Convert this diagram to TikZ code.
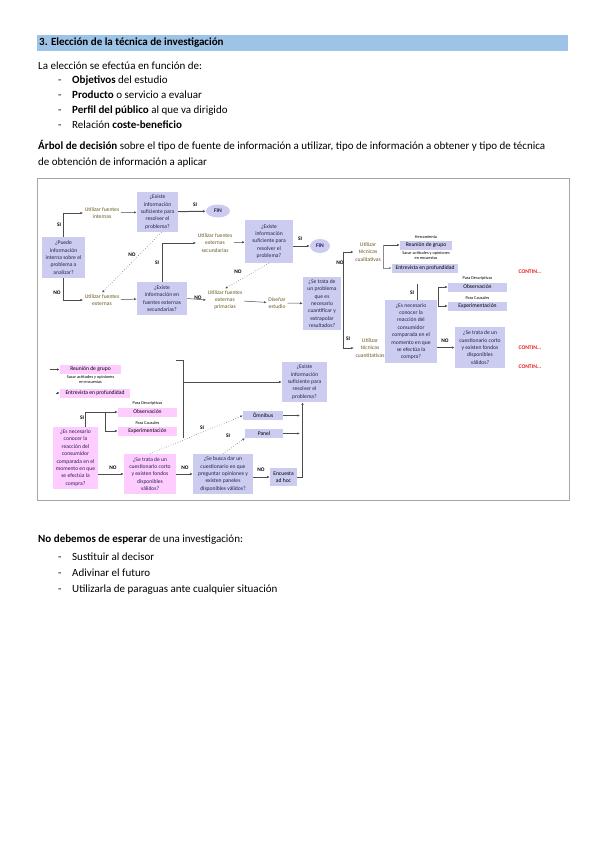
\documentclass[tikz,border=0pt]{standalone}
\usepackage{fontspec}
\setmainfont{Carlito}
\usetikzlibrary{
    arrows.meta,
    positioning,
    calc,
    shapes.geometric
}
\definecolor{headblue}{RGB}{157,195,230}
\definecolor{lavbox}{RGB}{204,204,240}
\definecolor{pinkbox}{RGB}{255,204,255}
\definecolor{boxtext}{RGB}{35,35,80}
\definecolor{srctext}{RGB}{105,88,35}
\definecolor{contred}{RGB}{230,30,30}
\newcommand{\diagfont}{\fontsize{5.6}{7.4}\selectfont}
\newcommand{\notefont}{\fontsize{4.3}{5}\selectfont}
\newcommand{\bodyfont}{\fontsize{11}{13}\selectfont}
\tikzset{
    question/.style={
        fill=lavbox,
        text=boxtext,
        align=center,
        inner sep=0.5pt,
        font=\diagfont
    }
}
\tikzset{
    pinkq/.style={
        question,
        fill=pinkbox
    }
}
\tikzset{
    toolbox/.style={
        fill=lavbox,
        text=black,
        inner sep=0.5pt,
        minimum height=9pt,
        font=\diagfont
    }
}
\tikzset{
    pinktool/.style={
        toolbox,
        fill=pinkbox
    }
}
\tikzset{
    action/.style={
        text=srctext,
        align=center,
        inner sep=1.5pt,
        font=\diagfont
    }
}
\tikzset{
    endnode/.style={
        ellipse,
        fill=lavbox,
        text=boxtext,
        inner sep=0pt,
        font=\diagfont\bfseries
    }
}
\tikzset{
    answer/.style={
        font=\fontsize{5.4}{6}\selectfont\bfseries,
        inner sep=0pt
    }
}
\tikzset{
    note/.style={
        font=\notefont,
        align=center,
        inner sep=0pt
    }
}
\tikzset{
    contin/.style={
        text=contred,
        font=\fontsize{5.6}{6}\selectfont\bfseries,
        inner sep=0pt
    }
}
\tikzset{
    flow/.style={
        draw=black!70,
        line width=0.5pt,
        -{Latex[length=2.6pt,width=2.2pt]}
    }
}
\tikzset{
    jumpflow/.style={
        flow,
        dotted
    }
}
\tikzset{
    bodytext/.style={
        font=\bodyfont,
        anchor=west,
        inner sep=0pt,
        text height=7.5pt,
        text depth=2.5pt
    }
}

\begin{document}
\begin{tikzpicture}[
    x=1pt,
    y=-1pt,
    >=Latex
]
\useasboundingbox (0,0) rectangle (599,848);

% ------------------------------------------------------------
% Heading and text above the tree
% ------------------------------------------------------------

\fill[headblue] (37,35) rectangle (568,51);
\node[bodytext, font=\bodyfont\bfseries] (heading) at (39,43)
    {3. Elección de la técnica de investigación};

\node[bodytext] (intro) at (38,67) {La elección se efectúa en función de:};
\foreach \y/\txt in {
    81/{\textbf{Objetivos} del estudio},
    96/{\textbf{Producto} o servicio a evaluar},
    111/{\textbf{Perfil del público} al que va dirigido},
    126/{Relación \textbf{coste-beneficio}}} {
    \node[bodytext] at (58,\y) {-};
    \node[bodytext] at (72,\y) {\txt};
}

\node[bodytext] (arbol) at (38,147)
    {\textbf{Árbol de decisión} sobre el tipo de fuente de información a utilizar, tipo de información a obtener y tipo de técnica};
\node[bodytext] (arbol2) at (38,163)
    {de obtención de información a aplicar};

% ------------------------------------------------------------
% Frame
% ------------------------------------------------------------

\draw[gray!70, line width=0.8pt] (37,178) rectangle (569,500);

% ------------------------------------------------------------
% Sources of information
% ------------------------------------------------------------

\node[question, minimum width=43pt, minimum height=41pt] (interna) at (63.5,257.5)
    {¿Puede\\información\\interna sobre el\\problema a\\analizar?};

\node[action] (fuentesint) at (102,213) {Utilizar fuentes\\internas};

\node[question, minimum width=41pt, minimum height=40pt] (suficiente1) at (157.5,212)
    {¿Existe\\información\\suficiente para\\resolver el\\problema?};

\node[endnode, minimum width=24pt, minimum height=13pt] (fin1) at (218,211) {FIN};

\node[action] (fuentesext) at (102,300) {Utilizar fuentes\\externas};

\node[question, minimum width=50pt, minimum height=33pt] (secundarias) at (162,298.5)
    {¿Existe\\información en\\fuentes externas\\secundarias?};

\node[action] (usarsec) at (215,243) {Utilizar fuentes\\externas\\secundarias};

\node[question, minimum width=48pt, minimum height=43pt] (suficiente2) at (269,241.5)
    {¿Existe\\información\\suficiente para\\resolver el\\problema?};

\node[endnode, minimum width=20pt, minimum height=14pt] (fin2) at (320,246) {FIN};

\node[action] (usarprim) at (225,300) {Utilizar fuentes\\externas\\primarias};

\node[action] (disenar) at (277,303) {Diseñar\\estudio};

\node[question, minimum width=38pt, minimum height=53pt] (cuantificar) at (322,303.5)
    {¿Se trata de\\un problema\\que es\\necesario\\cuantificar y\\extrapolar\\resultados?};

\draw[flow] (interna.north) |- (fuentesint.west);
\node[answer] at (59,225) {SI};
\draw[flow] (fuentesint) -- (suficiente1);
\draw[flow, line width=1pt] (suficiente1) -- (fin1);
\node[answer] at (195,205) {SI};
\draw[jumpflow] ([xshift=4pt]suficiente1.south) -- (fuentesext.north);
\node[answer] at (132,255) {NO};
\draw[flow] (interna.south) |- (fuentesext.west);
\node[answer] at (57,293) {NO};
\draw[flow] (fuentesext) -- (secundarias);
\draw[flow] (secundarias.north) |- (usarsec.west);
\node[answer] at (157,263) {SI};
\draw[flow] (secundarias.east) -- (usarprim.west);
\node[answer] at (198,298) {NO};
\draw[flow] (usarsec) -- (suficiente2);
\draw[flow] (suficiente2.east |- fin2) -- (fin2);
\node[answer] at (300,239) {SI};
\draw[jumpflow] (suficiente2.south) -- (usarprim.north);
\node[answer] at (238,272) {NO};
\draw[flow] (usarprim) -- (disenar);
\draw[flow] (disenar) -- (cuantificar);

% ------------------------------------------------------------
% Techniques
% ------------------------------------------------------------

\node[action] (cualitativas) at (368,252) {Utilizar\\técnicas\\cualitativas};

\node[toolbox, minimum width=52pt] (grupo) at (426,245) {Reunión de grupo};
\node[note, above=1.5pt of grupo] (herram) {Herramienta};
\node[note, below=1.5pt of grupo] (actitudes) {Sacar actitudes y opiniones\\en encuestas};

\node[toolbox, minimum width=66pt] (profundidad) at (425,268) {Entrevista en profundidad};

\node[contin] (contin1) at (530,272) {CONTIN...};

\node[toolbox, minimum width=59pt] (observacion) at (477.5,287) {Observación};
\node[note, above=1.5pt of observacion] (descrip1) {Para Descriptivas};

\node[toolbox, minimum width=59pt] (experim) at (477.5,306) {Experimentación};
\node[note, above=1.5pt of experim] (causal1) {Para Causales};

\node[question, minimum width=52pt, minimum height=63pt] (reaccion) at (411,331.5)
    {¿Es necesario\\conocer la\\reacción del\\consumidor\\comparada en el\\momento en que\\se efectúa la\\compra?};

\node[action] (cuantitativas) at (370,348) {Utilizar\\técnicas\\cuantitativas};

\node[question, minimum width=50pt, minimum height=41pt] (corto) at (480,347.5)
    {¿Se trata de un\\cuestionario corto\\y existen fondos\\disponibles\\válidos?};

\node[contin] (contin2) at (530,348) {CONTIN...};
\node[contin] (contin3) at (530,367) {CONTIN...};

\coordinate (split) at ($(cuantificar.east)+(2,0)$);
\draw[flow] (split) |- (cualitativas.west);
\draw[flow] (split) |- (cuantitativas.west);
\node[answer] at (340,263) {NO};
\node[answer] at (348,339) {SI};

\coordinate (cualbr) at (383,245);
\draw[flow] (cualbr) -- (grupo.west);
\draw[flow, draw=black!45] (cualbr) |- (profundidad.west);

\coordinate (reacsi) at (417,284);
\draw[black!70, line width=0.5pt] ([xshift=6pt]reaccion.north) -- (reacsi);
\node[answer] at (412,293) {SI};

\coordinate (causbr) at (438,287);
\draw[flow] (causbr) -- (observacion.west);
\draw[flow] (causbr) |- (experim.west);

\draw[flow, line width=0.8pt] (reaccion.east |- corto.west) -- (corto.west);
\node[answer] at (445,341) {NO};

% ------------------------------------------------------------
% Continuation (lower part)
% ------------------------------------------------------------

\node[pinktool, minimum width=61pt] (pgrupo) at (90.5,369.5) {Reunión de grupo};
\node[note, below=1.5pt of pgrupo] (pactitudes) {Sacar actitudes y opiniones\\en encuestas};

\node[pinktool, minimum width=70pt] (pprofundidad) at (95,393) {Entrevista en profundidad};

\node[pinktool, minimum width=59pt] (pobservacion) at (147.5,412) {Observación};
\node[note, above=1.5pt of pobservacion] (descrip2) {Para Descriptivas};

\node[pinktool, minimum width=59pt] (pexperim) at (147.5,431) {Experimentación};
\node[note, above=1.5pt of pexperim] (causal2) {Para Causales};

\node[pinkq, minimum width=45pt, minimum height=62pt] (preaccion) at (75.5,458)
    {¿Es necesario\\conocer la\\reacción del\\consumidor\\comparada en el\\momento en que\\se efectúa la\\compra?};

\node[pinkq, minimum width=52pt, minimum height=40pt] (pcorto) at (150,474)
    {¿Se trata de un\\cuestionario corto\\y existen fondos\\disponibles\\válidos?};

\node[question, minimum width=60pt, minimum height=40pt] (paneles) at (223,474)
    {¿Se busca dar un\\cuestionario en que\\preguntar opiniones y\\existen paneles\\disponibles válidos?};

\node[toolbox, minimum width=40pt] (omnibus) at (263,415.5) {Ómnibus};
\node[toolbox, minimum width=38pt] (panel) at (264,433.5) {Panel};
\node[toolbox, minimum width=27pt, minimum height=18pt, align=center] (adhoc) at (283.5,477)
    {Encuesta\\ad hoc};

\node[question, minimum width=45pt, minimum height=40pt] (suficiente3) at (304.5,382)
    {¿Existe\\información\\suficiente para\\resolver el\\problema?};

\coordinate (pstart) at (50,369.5);
\draw[flow] (pstart) -- (pgrupo.west);
\coordinate (pbullet) at (56,393);
\draw[flow] (pbullet) -- (pprofundidad.west);

\draw[flow] ([xshift=10pt]preaccion.north) |- (pobservacion.west);
\coordinate (pbr) at (105,412);
\draw[flow] (pbr) |- (pexperim.west);
\node[answer] at (82,418) {SI};

\draw[flow] (preaccion.east |- pcorto.west) -- (pcorto.west);
\node[answer] at (113,468) {NO};
\draw[flow] (pcorto) -- (paneles);
\node[answer] at (185,468) {NO};
\draw[flow] (paneles.east |- adhoc.west) -- (adhoc.west);
\node[answer] at (261,470) {NO};

\draw[jumpflow] (pcorto.north) -- (omnibus.west);
\node[answer] at (202,428) {SI};
\draw[jumpflow] (paneles.north) -- (panel.south west);
\node[answer] at (228,436) {SI};

\coordinate (omnend) at (300,415.5);
\coordinate (panend) at (300,433.5);
\draw[flow] (omnibus.east) -- (omnend);
\draw[flow] (panel.east) -- (panend);
\draw[flow] (adhoc.east) -| ([xshift=-2pt]suficiente3.south);

\coordinate (brtop) at (176,360);
\coordinate (brbot) at (183,438);
\draw[black!70, line width=0.5pt] (brtop) -| (brbot);
\draw[flow] (brtop -| brbot) ++(0,22) -- (suficiente3.west);

% ------------------------------------------------------------
% Text below the tree
% ------------------------------------------------------------

\node[bodytext] (nodebemos) at (38,540)
    {\textbf{No debemos de esperar} de una investigación:};
\foreach \y/\txt in {
    558/{Sustituir al decisor},
    574/{Adivinar el futuro},
    590/{Utilizarla de paraguas ante cualquier situación}} {
    \node[bodytext] at (58,\y) {-};
    \node[bodytext] at (72,\y) {\txt};
}

\end{tikzpicture}
\end{document}
